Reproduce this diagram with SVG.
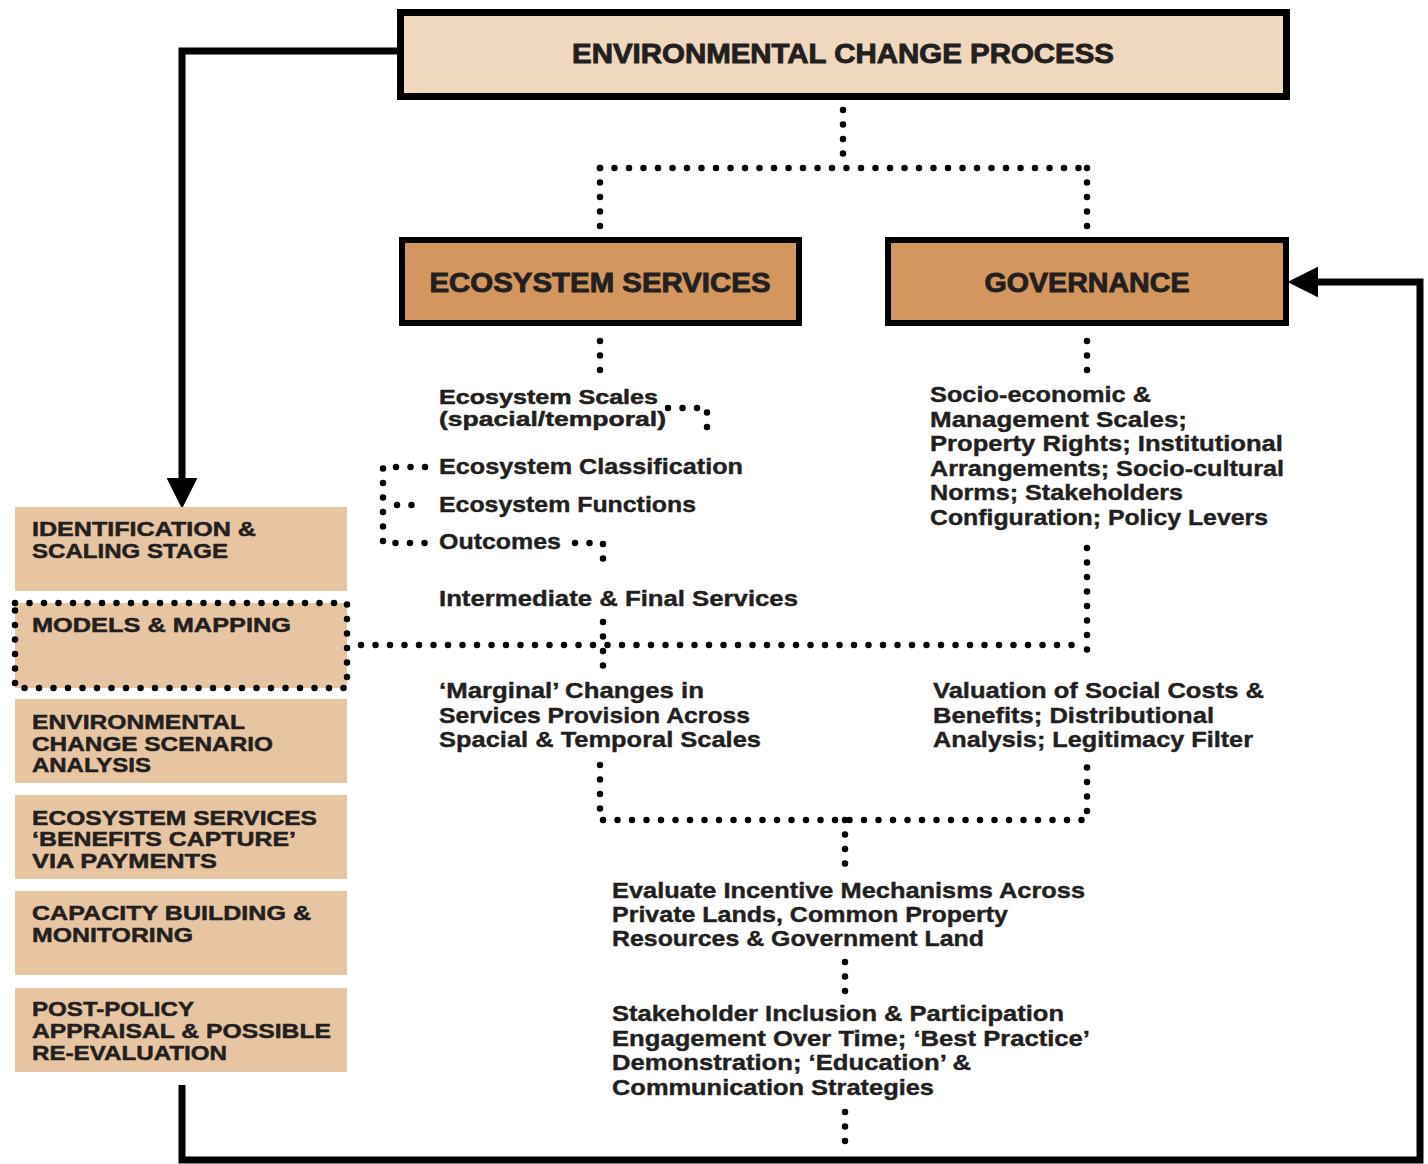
<svg xmlns="http://www.w3.org/2000/svg" width="1428" height="1164" viewBox="0 0 1428 1164">
<defs>
<style>
.t{font-family:"Liberation Sans",Arial,sans-serif;font-weight:bold;fill:#231f20;font-size:22px;stroke:#231f20;stroke-width:0.4}
.s{font-family:"Liberation Sans",Arial,sans-serif;font-weight:bold;fill:#231f20;font-size:21px;stroke:#231f20;stroke-width:0.5}
.title{font-family:"Liberation Sans",Arial,sans-serif;font-weight:bold;fill:#231f20;font-size:27px;stroke:#231f20;stroke-width:0.9}
.dot{fill:none;stroke:#000;stroke-width:6.5;stroke-linecap:round;stroke-dasharray:0 14.5}
.solid{fill:none;stroke:#000;stroke-width:7}
.stage{fill:#e8c5a2}
</style>
<marker id="ah" viewBox="0 0 10 10" refX="2" refY="5" markerWidth="4.4" markerHeight="4.4" markerUnits="strokeWidth" orient="auto">
<path d="M0,0 L10,5 L0,10 Z" fill="#000"/>
</marker>
</defs>
<rect width="1428" height="1164" fill="#fff"/>

<g id="connectors">
<path class="solid" d="M400,51 H182 V484" marker-end="url(#ah)"/>
<path class="solid" d="M182,1085 V1160 H1420 V282 H1312" marker-end="url(#ah)"/>
<path class="dot" d="M843,110 V168"/>
<path class="dot" d="M600,168 H1087"/>
<path class="dot" d="M600,168 V229"/>
<path class="dot" d="M1087,168 V229"/>
<path class="dot" d="M600,341 V371"/>
<path class="dot" d="M1087,341 V371"/>
<path class="dot" d="M668,408 H707 V438"/>
<path class="dot" d="M425,467 H383 V543 H425"/>
<path class="dot" d="M397,505 H425"/>
<path class="dot" d="M575,543 H603 V573"/>
<path class="dot" d="M603,622 V666"/>
<path class="dot" d="M361,645 H1075"/>
<path class="dot" d="M1087,548 V660"/>
<path class="dot" d="M600,765 V820 H1087 V765"/>
<path class="dot" d="M845,820 V866"/>
<path class="dot" d="M845,962 V992"/>
<path class="dot" d="M845,1112 V1142"/>
</g>

<g id="env-change">
<rect x="400.5" y="12.5" width="886" height="84" fill="#f0d8bf" stroke="#000" stroke-width="7"/>
<text class="title" x="843" y="63" text-anchor="middle" textLength="542" lengthAdjust="spacingAndGlyphs">ENVIRONMENTAL CHANGE PROCESS</text>
</g>

<g id="ecosystem-services">
<rect x="402" y="240" width="397" height="83" fill="#d4965f" stroke="#000" stroke-width="6"/>
<text class="title" x="600" y="292" text-anchor="middle" textLength="341" lengthAdjust="spacingAndGlyphs">ECOSYSTEM SERVICES</text>
</g>

<g id="governance">
<rect x="888" y="240" width="398" height="83" fill="#d4965f" stroke="#000" stroke-width="6"/>
<text class="title" x="1087" y="292" text-anchor="middle" textLength="205" lengthAdjust="spacingAndGlyphs">GOVERNANCE</text>
</g>

<g id="es-details">
<text class="s" x="439" y="404" textLength="219" lengthAdjust="spacingAndGlyphs">Ecosystem Scales</text>
<text class="s" x="439" y="426" textLength="227" lengthAdjust="spacingAndGlyphs">(spacial/temporal)</text>
<text class="t" x="439" y="474" textLength="304" lengthAdjust="spacingAndGlyphs">Ecosystem Classification</text>
<text class="t" x="439" y="512" textLength="257" lengthAdjust="spacingAndGlyphs">Ecosystem Functions</text>
<text class="t" x="439" y="549" textLength="122" lengthAdjust="spacingAndGlyphs">Outcomes</text>
<text class="t" x="439" y="606" textLength="359" lengthAdjust="spacingAndGlyphs">Intermediate &amp; Final Services</text>
</g>

<g id="gov-details">
<text class="t" x="930" y="402" textLength="221" lengthAdjust="spacingAndGlyphs">Socio-economic &amp;</text>
<text class="t" x="930" y="427" textLength="257" lengthAdjust="spacingAndGlyphs">Management Scales;</text>
<text class="t" x="930" y="451" textLength="353" lengthAdjust="spacingAndGlyphs">Property Rights; Institutional</text>
<text class="t" x="930" y="476" textLength="354" lengthAdjust="spacingAndGlyphs">Arrangements; Socio-cultural</text>
<text class="t" x="930" y="500" textLength="253" lengthAdjust="spacingAndGlyphs">Norms; Stakeholders</text>
<text class="t" x="930" y="525" textLength="338" lengthAdjust="spacingAndGlyphs">Configuration; Policy Levers</text>
</g>

<g id="marginal">
<text class="t" x="439" y="698" textLength="265" lengthAdjust="spacingAndGlyphs">‘Marginal’ Changes in</text>
<text class="t" x="439" y="723" textLength="311" lengthAdjust="spacingAndGlyphs">Services Provision Across</text>
<text class="t" x="439" y="747" textLength="322" lengthAdjust="spacingAndGlyphs">Spacial &amp; Temporal Scales</text>
</g>

<g id="valuation">
<text class="t" x="933" y="698" textLength="331" lengthAdjust="spacingAndGlyphs">Valuation of Social Costs &amp;</text>
<text class="t" x="933" y="723" textLength="281" lengthAdjust="spacingAndGlyphs">Benefits; Distributional</text>
<text class="t" x="933" y="747" textLength="320" lengthAdjust="spacingAndGlyphs">Analysis; Legitimacy Filter</text>
</g>

<g id="evaluate">
<text class="t" x="612" y="898" textLength="473" lengthAdjust="spacingAndGlyphs">Evaluate Incentive Mechanisms Across</text>
<text class="t" x="612" y="922" textLength="396" lengthAdjust="spacingAndGlyphs">Private Lands, Common Property</text>
<text class="t" x="612" y="946" textLength="372" lengthAdjust="spacingAndGlyphs">Resources &amp; Government Land</text>
</g>

<g id="stakeholder">
<text class="t" x="612" y="1021" textLength="452" lengthAdjust="spacingAndGlyphs">Stakeholder Inclusion &amp; Participation</text>
<text class="t" x="612" y="1046" textLength="478" lengthAdjust="spacingAndGlyphs">Engagement Over Time; ‘Best Practice’</text>
<text class="t" x="612" y="1070" textLength="359" lengthAdjust="spacingAndGlyphs">Demonstration; ‘Education’ &amp;</text>
<text class="t" x="612" y="1095" textLength="322" lengthAdjust="spacingAndGlyphs">Communication Strategies</text>
</g>

<g id="stage-identification">
<rect class="stage" x="15" y="507" width="332" height="84"/>
<text class="s" x="32" y="536" textLength="224" lengthAdjust="spacingAndGlyphs">IDENTIFICATION &amp;</text>
<text class="s" x="32" y="558" textLength="196" lengthAdjust="spacingAndGlyphs">SCALING STAGE</text>
</g>

<g id="stage-models">
<rect class="stage" x="15" y="603" width="332" height="85"/>
<path class="dot" d="M15,603 H347 V688 H15 Z"/>
<text class="s" x="32" y="632" textLength="259" lengthAdjust="spacingAndGlyphs">MODELS &amp; MAPPING</text>
</g>

<g id="stage-scenario">
<rect class="stage" x="15" y="699" width="332" height="84"/>
<text class="s" x="32" y="729" textLength="213" lengthAdjust="spacingAndGlyphs">ENVIRONMENTAL</text>
<text class="s" x="32" y="751" textLength="241" lengthAdjust="spacingAndGlyphs">CHANGE SCENARIO</text>
<text class="s" x="32" y="772" textLength="119" lengthAdjust="spacingAndGlyphs">ANALYSIS</text>
</g>

<g id="stage-payments">
<rect class="stage" x="15" y="795" width="332" height="84"/>
<text class="s" x="32" y="825" textLength="285" lengthAdjust="spacingAndGlyphs">ECOSYSTEM SERVICES</text>
<text class="s" x="32" y="846" textLength="264" lengthAdjust="spacingAndGlyphs">‘BENEFITS CAPTURE’</text>
<text class="s" x="32" y="868" textLength="185" lengthAdjust="spacingAndGlyphs">VIA PAYMENTS</text>
</g>

<g id="stage-capacity">
<rect class="stage" x="15" y="891" width="332" height="84"/>
<text class="s" x="32" y="920" textLength="279" lengthAdjust="spacingAndGlyphs">CAPACITY BUILDING &amp;</text>
<text class="s" x="32" y="942" textLength="161" lengthAdjust="spacingAndGlyphs">MONITORING</text>
</g>

<g id="stage-postpolicy">
<rect class="stage" x="15" y="988" width="332" height="84"/>
<text class="s" x="32" y="1016" textLength="162" lengthAdjust="spacingAndGlyphs">POST-POLICY</text>
<text class="s" x="32" y="1038" textLength="299" lengthAdjust="spacingAndGlyphs">APPRAISAL &amp; POSSIBLE</text>
<text class="s" x="32" y="1060" textLength="195" lengthAdjust="spacingAndGlyphs">RE-EVALUATION</text>
</g>
</svg>
